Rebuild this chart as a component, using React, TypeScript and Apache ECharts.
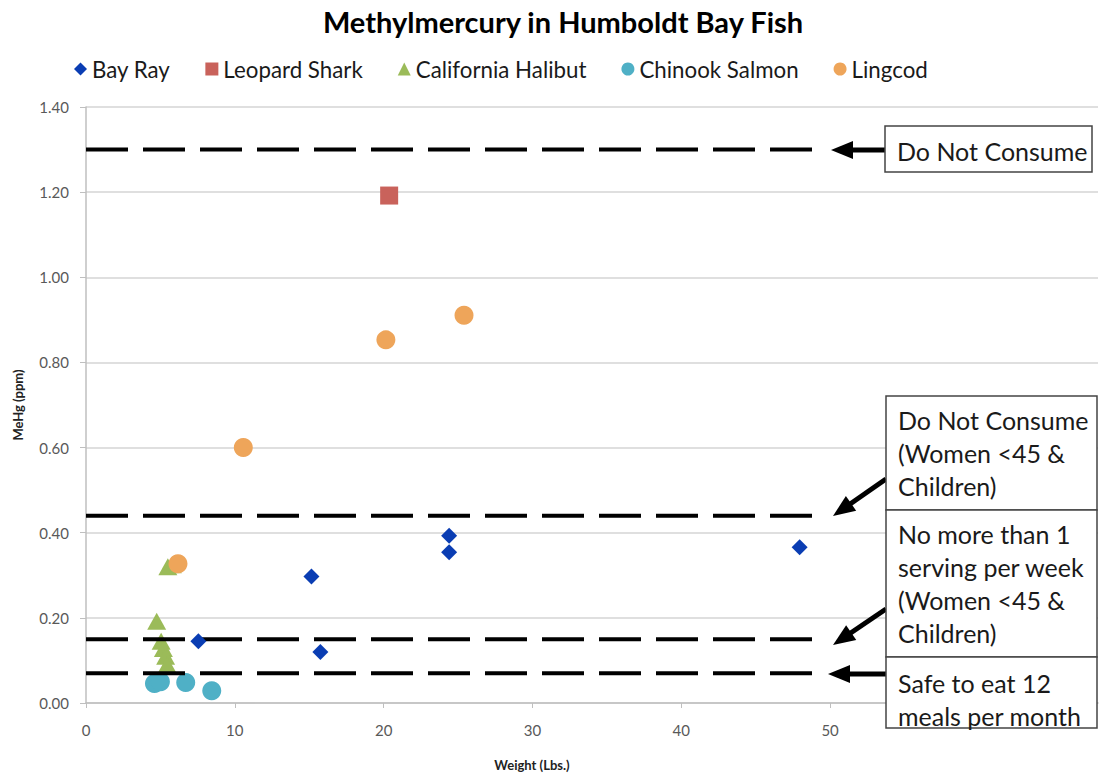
import React, { useEffect, useRef } from "react";
import * as echarts from "echarts";

const seriesNames = ["Bay Ray", "Leopard Shark", "California Halibut", "Chinook Salmon", "Lingcod"];
const bayRay = [[7.55, 0.145], [15.15, 0.297], [15.75, 0.12], [24.4, 0.393], [24.4, 0.354], [47.95, 0.366]];
const leopardShark = [[20.37, 1.192]];
const halibut = [[5.5, 0.32], [5.8, 0.325], [4.75, 0.192], [5.05, 0.145], [5.2, 0.128], [5.35, 0.11], [5.45, 0.09]];
const chinook = [[4.6, 0.046], [5.0, 0.05], [6.7, 0.048], [8.45, 0.029]];
const lingcod = [[6.18, 0.327], [10.57, 0.6], [20.15, 0.853], [25.4, 0.911]];
const thresholds = [1.3, 0.44, 0.15, 0.07];
const thresholdEnds = [49, 49, 49.4, 49.2];
const xLabelMax = 50;
const annotations = [
  "Do Not Consume",
  "Do Not Consume\n(Women <45 &\nChildren)",
  "No more than 1\nserving per week\n(Women <45 &\nChildren)",
  "Safe to eat 12\nmeals per month",
];

const FONT = "Lato, 'Open Sans', sans-serif";

function arrow(x0: number, y0: number, x1: number, y1: number) {
  const dx = x1 - x0, dy = y1 - y0;
  const len = Math.sqrt(dx * dx + dy * dy);
  const ux = dx / len, uy = dy / len;
  const hl = 22, hw = 9;
  const bx = x1 - ux * hl, by = y1 - uy * hl;
  const px = -uy * hw, py = ux * hw;
  return [
    { type: "line", shape: { x1: x0, y1: y0, x2: bx + ux * 2, y2: by + uy * 2 }, style: { stroke: "#000", lineWidth: 5 }, z: 100 },
    { type: "polygon", shape: { points: [[x1, y1], [bx + px, by + py], [bx - px, by - py]] }, style: { fill: "#000" }, z: 100 },
  ];
}

function box(x: number, y: number, w: number, h: number, text: string, ty: number) {
  return [
    { type: "rect", shape: { x, y, width: w, height: h }, style: { fill: "#fff", stroke: "#444", lineWidth: 1.5 }, z: 101 },
    { type: "text", x: x + 12, y: ty, style: { text, fill: "#1a1a1a", font: `25px ${FONT}`, lineHeight: 33, verticalAlign: "top" }, z: 102 },
  ];
}

export default function App() {
  const ref = useRef<HTMLDivElement>(null);
  useEffect(() => {
    if (!ref.current) return;
    const chart = echarts.init(ref.current, null, { renderer: "svg" });
    const colors = ["#0a3db3", "#c9625b", "#9bbb59", "#4fb0c6", "#eea55a"];
    const scatter = (name: string, data: number[][], symbol: string, size: any, color: string, z: number) => ({
      name, type: "scatter", data, symbol, symbolSize: size, itemStyle: { color, opacity: 1 }, z,
    });
    const lineSeries = thresholds.map((v, i) => ({
      type: "line",
      data: [[0, v], [thresholdEnds[i], v]],
      symbol: "none",
      silent: true,
      lineStyle: { color: "#000", width: 4, type: [42, 15] },
      z: 4,
    }));
    chart.setOption({
      animation: false,
      backgroundColor: "#fff",
      title: {
        text: "Methylmercury in Humboldt Bay Fish",
        left: 558,
        textAlign: "center",
        top: 2,
        textStyle: { fontFamily: FONT, fontSize: 29, fontWeight: "bold", color: "#000" },
      },
      legend: {
        data: seriesNames,
        left: 69,
        top: 53,
        itemWidth: 13,
        itemHeight: 13,
        itemGap: 35,
        textStyle: { fontFamily: FONT, fontSize: 22.3, color: "#1a1a1a" },
      },
      grid: { left: 86, right: 4, top: 107, bottom: 72 },
      xAxis: {
        type: "value",
        min: 0,
        max: 68,
        interval: 10,
        axisLine: { show: true, lineStyle: { color: "#bfbfbf", width: 1.5 } },
        axisTick: { show: true, length: 5, lineStyle: { color: "#bfbfbf" } },
        axisLabel: {
          fontFamily: FONT, fontSize: 15, color: "#595959", margin: 19,
          showMaxLabel: false,
          formatter: (v: number) => (v <= xLabelMax ? String(v) : ""),
        },
        splitLine: { show: false },
      },
      yAxis: {
        type: "value",
        min: 0,
        max: 1.4,
        interval: 0.2,
        name: "MeHg (ppm)",
        nameLocation: "middle",
        nameGap: 62,
        nameRotate: 90,
        nameTextStyle: { fontFamily: FONT, fontSize: 13, fontWeight: "bold", color: "#222" },
        axisLine: { show: true, lineStyle: { color: "#bfbfbf", width: 1.5 } },
        axisTick: { show: true, length: 6, lineStyle: { color: "#bfbfbf" } },
        axisLabel: { fontFamily: FONT, fontSize: 15, color: "#595959", margin: 17, formatter: (v: number) => v.toFixed(2) },
        splitLine: { show: true, lineStyle: { color: "#d4d4d4", width: 1.5 } },
      },
      series: [
        scatter(seriesNames[2], halibut, "triangle", [19, 17], colors[2], 2),
        scatter(seriesNames[3], chinook, "circle", 19, colors[3], 2),
        scatter(seriesNames[4], lingcod, "circle", 19, colors[4], 3),
        scatter(seriesNames[1], leopardShark, "rect", 18, colors[1], 3),
        ...lineSeries,
        scatter(seriesNames[0], bayRay, "diamond", [16, 16], colors[0], 5),
      ],
      graphic: [
        {
          type: "text", x: 532, y: 765,
          style: { text: "Weight (Lbs.)", font: `bold 13px ${FONT}`, fill: "#222", align: "center", verticalAlign: "middle" },
        },
        ...arrow(886, 150, 831, 150),
        ...arrow(886, 479, 833, 516),
        ...arrow(886, 609, 833, 645),
        ...arrow(886, 674, 828, 674),
        ...box(885, 126, 207, 46, annotations[0], 134),
        ...box(886, 396, 211, 114, annotations[1], 403),
        ...box(886, 510, 211, 147, annotations[2], 517),
        ...box(886, 657, 211, 71, annotations[3], 666),
      ],
    });
    return () => chart.dispose();
  }, []);
  return <div ref={ref} style={{ position: "absolute", left: 0, top: 0, width: 1102, height: 775 }} />;
}
